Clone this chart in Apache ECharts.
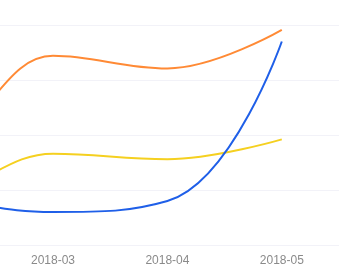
<!DOCTYPE html>
<html>
<head>
<meta charset="utf-8">
<script src="https://cdn.jsdelivr.net/npm/echarts@6/dist/echarts.min.js"></script>
<style>html,body{margin:0;padding:0;background:#fff;overflow:hidden;width:355px;height:277px}#c{position:absolute;left:-233px;top:0;width:588px;height:277px}</style>
</head>
<body>
<div id="c"></div>
<script>
var categories = ['2018-01', '2018-02', '2018-03', '2018-04', '2018-05'];
var orangeValues = [300, 200, 344, 321, 391];
var yellowValues = [150, 100, 166, 156, 192];
var blueValues = [90, 82, 60, 80, 370];
var yTicks = [0, 100, 200, 300, 400];

var chart = echarts.init(document.getElementById('c'));
chart.setOption({
  animation: false,
  grid: { left: 0, right: 16, top: 25, bottom: 32, containLabel: false },
  xAxis: {
    type: 'category',
    data: categories,
    boundaryGap: true,
    axisLine: { show: false },
    axisTick: { show: false },
    axisLabel: { color: '#8a8a8a', fontSize: 12, margin: 10, fontFamily: 'sans-serif' }
  },
  yAxis: {
    type: 'value',
    min: yTicks[0],
    max: yTicks[yTicks.length - 1],
    interval: 100,
    axisLine: { show: false },
    axisTick: { show: false },
    axisLabel: { show: false },
    splitLine: { lineStyle: { color: '#f2f2f8', width: 1 } }
  },
  series: [
    { type: 'line', data: orangeValues, smooth: 0.4, showSymbol: false, lineStyle: { color: '#ff8a35', width: 2 }, itemStyle: { color: '#ff8a35' } },
    { type: 'line', data: yellowValues, smooth: 0.4, showSymbol: false, lineStyle: { color: '#f5d020', width: 2 }, itemStyle: { color: '#f5d020' } },
    { type: 'line', data: blueValues, smooth: 0.45, showSymbol: false, lineStyle: { color: '#1f5fe8', width: 2 }, itemStyle: { color: '#1f5fe8' } }
  ]
});
</script>
</body>
</html>
